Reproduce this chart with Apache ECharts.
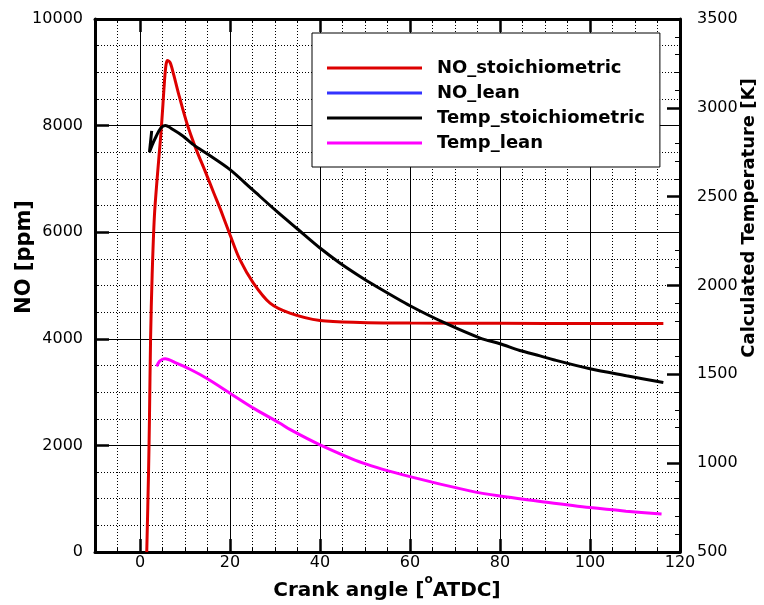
<!DOCTYPE html>
<html><head><meta charset="utf-8">
<script src="https://cdn.jsdelivr.net/npm/echarts@6/dist/echarts.min.js"></script>
<style>html,body{margin:0;padding:0;background:#fff}#c{width:764px;height:605px}</style>
</head><body><div id="c"></div><script>
const seriesNames = ['NO_stoichiometric', 'NO_lean', 'Temp_stoichiometric', 'Temp_lean'];
const seriesColors = ['#dd0000', '#3333ff', '#000000', '#ff00ff'];

const noStoichX = [1.5, 1.9, 2.1, 2.35, 2.7, 3.2, 3.9, 4.6, 5.1, 5.5, 5.8, 6.1, 6.7, 7.5, 8.5, 10.4, 12.5, 14.4, 16.4, 17.9, 20, 22.2, 25.2, 28.9, 33.3, 40, 48.9, 60, 80, 100, 116.3];
const noStoichY = [0, 1500, 2500, 4000, 5200, 6300, 7100, 7800, 8400, 8900, 9150, 9220, 9180, 8950, 8620, 8050, 7549, 7160, 6736, 6423, 5953, 5484, 5046, 4670, 4483, 4344, 4306, 4295, 4290, 4285, 4285];

const noLeanX = [];
const noLeanY = [];

const tempStoichX = [2.6, 2.1, 2.7, 3.6, 4.6, 5.6, 7.5, 9.6, 12, 15, 20, 25, 30.4, 35, 40, 44.4, 48.9, 51.9, 60, 68.1, 75.6, 80, 84.4, 88.9, 91.9, 100, 108.1, 116.3];
const tempStoichY = [2870, 2750, 2790, 2840, 2885, 2900, 2875, 2840, 2790, 2740, 2652, 2539, 2417, 2318, 2211, 2127, 2051, 2004, 1886, 1785, 1704, 1672, 1634, 1604, 1582, 1531, 1492, 1454];

const tempLeanX = [3.7, 4.3, 5.0, 5.6, 8.1, 11, 14.8, 20, 25.2, 31.1, 33.3, 40, 49.6, 60, 73.3, 80, 90.4, 100, 108, 115.9];
const tempLeanY = [1545, 1572, 1585, 1588, 1563, 1530, 1478, 1394, 1310, 1225, 1190, 1103, 1000, 924, 844, 815, 780, 750, 730, 714];

const xTickLabels = ['0', '20', '40', '60', '80', '100', '120'];
const noTickLabels = ['0', '2000', '4000', '6000', '8000', '10000'];
const tempTickLabels = ['500', '1000', '1500', '2000', '2500', '3000', '3500'];

function zip(xs, ys) { return xs.map((x, i) => [x, ys[i]]); }

const FONT = 'DejaVu Sans';
const chart = echarts.init(document.getElementById('c'), null, { renderer: 'canvas' });

const xBase = {
  type: 'value', min: -10, max: 120, minInterval: 20, maxInterval: 20, splitNumber: 6,
  axisLine: { show: true, onZero: false, lineStyle: { color: '#000', width: 3 } },
  axisTick: { show: true, inside: true, length: 13, lineStyle: { color: '#000', width: 2.5 } },
  minorTick: { show: true, splitNumber: 4, length: 4, lineStyle: { color: '#000', width: 1 } }
};

const option = {
  animation: false,
  backgroundColor: '#fff',
  textStyle: { fontFamily: FONT },
  grid: { left: 95, right: 84, top: 19, bottom: 53, containLabel: false },
  legend: {
    data: seriesNames, orient: 'vertical', left: 312, top: 33,
    icon: 'rect', itemWidth: 95, itemHeight: 3, itemGap: 7,
    padding: [26, 15, 15, 15],
    backgroundColor: '#fff', borderColor: '#000', borderWidth: 1, borderRadius: 0,
    selectedMode: false,
    textStyle: { fontFamily: FONT, fontWeight: 'bold', fontSize: 18, lineHeight: 18, color: '#000', padding: [0, 0, 0, 10] }
  },
  xAxis: [
    Object.assign({}, xBase, {
      position: 'bottom',
      axisLabel: { color: '#000', fontFamily: FONT, fontSize: 16, margin: 3,
        formatter: v => xTickLabels.includes(String(v)) ? String(v) : '' },
      splitLine: { show: true, lineStyle: { color: '#000', width: 1 } },
      minorSplitLine: { show: true, lineStyle: { color: '#000', width: 1, type: [1, 2] } }
    }),
    Object.assign({}, xBase, {
      position: 'top',
      axisLabel: { show: false },
      splitLine: { show: false },
      minorSplitLine: { show: false }
    })
  ],
  yAxis: [
    {
      type: 'value', position: 'left', min: 0, max: 10000, interval: 2000,
      axisLine: { show: true, onZero: false, lineStyle: { color: '#000', width: 3 } },
      axisTick: { show: true, inside: true, length: 14, lineStyle: { color: '#000', width: 2.5 } },
      minorTick: { show: true, splitNumber: 4, length: 4, lineStyle: { color: '#000', width: 1 } },
      axisLabel: { color: '#000', fontFamily: FONT, fontSize: 16, margin: 12,
        formatter: v => noTickLabels.includes(String(v)) ? String(v) : '' },
      splitLine: { show: true, lineStyle: { color: '#000', width: 1 } },
      minorSplitLine: { show: true, lineStyle: { color: '#000', width: 1, type: [1, 2] } }
    },
    {
      type: 'value', position: 'right', min: 500, max: 3500, interval: 500,
      axisLine: { show: true, onZero: false, lineStyle: { color: '#000', width: 3 } },
      axisTick: { show: true, inside: true, length: 13, lineStyle: { color: '#000', width: 2.5 } },
      minorTick: { show: true, splitNumber: 5, length: 5, lineStyle: { color: '#000', width: 1 } },
      axisLabel: { color: '#000', fontFamily: FONT, fontSize: 16, margin: 17,
        formatter: v => tempTickLabels.includes(String(v)) ? String(v) : '' },
      splitLine: { show: false },
      minorSplitLine: { show: false }
    }
  ],
  graphic: [
    { type: 'text', x: 25, y: 257, rotation: Math.PI / 2, z: 100,
      style: { text: 'NO [ppm]', font: 'bold 21px "DejaVu Sans"', fill: '#000', align: 'center', verticalAlign: 'middle', textAlign: 'center', textVerticalAlign: 'middle' } },
    { type: 'text', x: 749, y: 218, rotation: Math.PI / 2, z: 100,
      style: { text: 'Calculated Temperature [K]', font: 'bold 18px "DejaVu Sans"', fill: '#000', align: 'center', verticalAlign: 'middle', textAlign: 'center', textVerticalAlign: 'middle' } },
    { type: 'text', x: 387, y: 591, z: 100,
      style: { text: 'Crank angle [{s|o}ATDC]', font: 'bold 20px "DejaVu Sans"', lineHeight: 34, fill: '#000', align: 'center', verticalAlign: 'middle', textAlign: 'center', textVerticalAlign: 'middle',
        rich: { s: { font: 'bold 12px "DejaVu Sans"', fill: '#000', verticalAlign: 'top' } } } }
  ],
  series: [
    { name: seriesNames[0], type: 'line', xAxisIndex: 0, yAxisIndex: 0, data: zip(noStoichX, noStoichY), symbol: 'none', smooth: 0.3, lineStyle: { color: seriesColors[0], width: 3 }, itemStyle: { color: seriesColors[0] } },
    { name: seriesNames[1], type: 'line', xAxisIndex: 0, yAxisIndex: 0, data: zip(noLeanX, noLeanY), symbol: 'none', lineStyle: { color: seriesColors[1], width: 3 }, itemStyle: { color: seriesColors[1] } },
    { name: seriesNames[2], type: 'line', xAxisIndex: 0, yAxisIndex: 1, data: zip(tempStoichX, tempStoichY), symbol: 'none', smooth: 0.3, lineStyle: { color: seriesColors[2], width: 3 }, itemStyle: { color: seriesColors[2] } },
    { name: seriesNames[3], type: 'line', xAxisIndex: 0, yAxisIndex: 1, data: zip(tempLeanX, tempLeanY), symbol: 'none', smooth: 0.3, lineStyle: { color: seriesColors[3], width: 3 }, itemStyle: { color: seriesColors[3] } }
  ]
};
chart.setOption(option);
</script></body></html>
